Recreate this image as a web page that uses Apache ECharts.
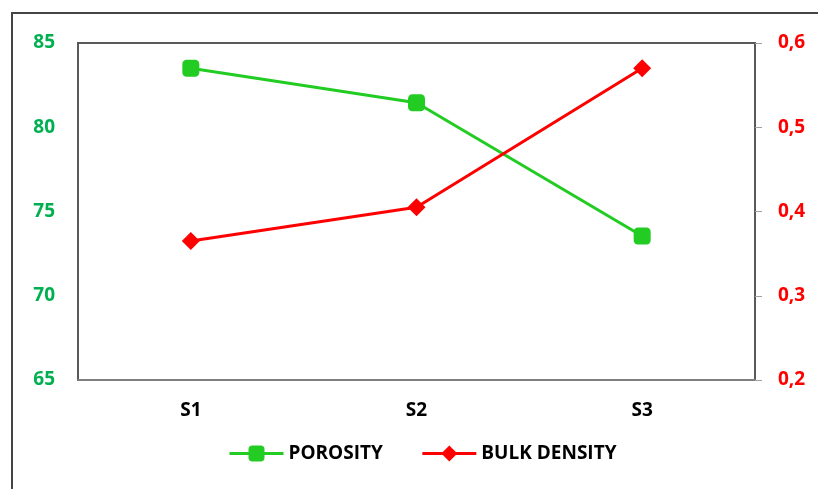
<!DOCTYPE html>
<html>
<head>
<meta charset="utf-8">
<script src="https://cdn.jsdelivr.net/npm/echarts@6/dist/echarts.min.js"></script>
<style>
  html, body { margin: 0; padding: 0; background: #fff; }
  #frame { position: absolute; left: 11px; top: 12px; width: 830px; height: 500px;
           border-left: 2px solid #444; border-top: 2px solid #444; box-sizing: border-box; }
  #chart { position: absolute; left: 0; top: 0; width: 818px; height: 489px; }
</style>
</head>
<body>
<div id="frame"></div>
<div id="chart"></div>
<script>
const categories = ['S1', 'S2', 'S3'];
const porosity = [83.5, 81.45, 73.55];
const bulkDensity = [0.365, 0.405, 0.57];
const leftTicks = [65, 85, 5];
const rightTicks = [0.2, 0.6, 0.1];

const font = '"Open Sans", Lato, sans-serif';
const fs = 19;
const chart = echarts.init(document.getElementById('chart'));
chart.setOption({
  animation: false,
  grid: { left: 78, right: 63, top: 43, bottom: 109, show: true, borderColor: '#595959', borderWidth: 2 },
  legend: {
    bottom: 21, left: 223, itemGap: 38, itemWidth: 54, itemHeight: 20,
    lineStyle: { width: 3 },
    textStyle: { fontFamily: font, fontWeight: 'bold', fontSize: fs, color: '#000' },
    data: ['POROSITY', 'BULK DENSITY']
  },
  xAxis: {
    type: 'category', data: categories, boundaryGap: true,
    axisLine: { lineStyle: { color: '#7f7f7f', width: 2 } },
    axisTick: { show: false },
    axisLabel: { fontFamily: font, fontWeight: 'bold', fontSize: fs, color: '#000', margin: 21 }
  },
  yAxis: [
    {
      type: 'value', min: leftTicks[0], max: leftTicks[1], interval: leftTicks[2], position: 'left',
      splitLine: { show: false },
      axisLine: { show: true, lineStyle: { color: '#595959', width: 2 } },
      axisTick: { show: false },
      axisLabel: { fontFamily: font, fontWeight: 'bold', fontSize: fs, color: '#00B050', margin: 23 }
    },
    {
      type: 'value', min: rightTicks[0], max: rightTicks[1], interval: rightTicks[2], position: 'right',
      splitLine: { show: false },
      axisLine: { show: true, lineStyle: { color: '#595959', width: 2 } },
      axisTick: { show: true, length: 7, lineStyle: { color: '#a0a0a0', width: 1 } },
      axisLabel: { fontFamily: font, fontWeight: 'bold', fontSize: fs, color: '#FF0000', margin: 23,
        formatter: v => v.toFixed(1).replace('.', ',') }
    }
  ],
  series: [
    {
      name: 'POROSITY', type: 'line', yAxisIndex: 0, data: porosity,
      symbol: 'roundRect', symbolSize: 17,
      lineStyle: { color: '#22CC22', width: 3 }, itemStyle: { color: '#22CC22' }
    },
    {
      name: 'BULK DENSITY', type: 'line', yAxisIndex: 1, data: bulkDensity,
      symbol: 'diamond', symbolSize: 18,
      lineStyle: { color: '#FF0000', width: 3 }, itemStyle: { color: '#FF0000' }
    }
  ]
});
</script>
</body>
</html>
